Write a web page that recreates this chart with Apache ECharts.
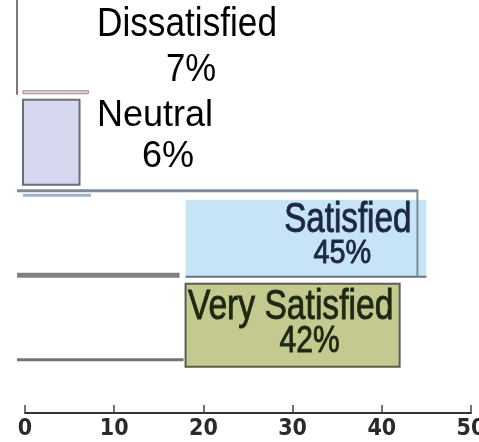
<!DOCTYPE html>
<html>
<head>
<meta charset="utf-8">
<script src="https://cdn.jsdelivr.net/npm/echarts@6/dist/echarts.min.js"></script>
<style>
  html, body { margin: 0; padding: 0; background: #ffffff; }
  #chart { width: 479px; height: 442px; }
</style>
</head>
<body>
<div id="chart"></div>
<script>
// Survey satisfaction shares (percent)
const categories = ['Dissatisfied', 'Neutral', 'Satisfied', 'Very Satisfied'];
const percentValues = [7, 6, 45, 42];
// Axis value where the coloured fill of each bar begins
const fillFrom = [0, 0, 18, 18];
// Tick values along the percentage axis
const axisTicks = [0, 10, 20, 30, 40, 50];

const TEXT_FONT = "'Liberation Sans', Arial, sans-serif";

function rect(x1, y1, x2, y2, fill, stroke, lw) {
  return {
    type: 'rect',
    shape: { x: x1, y: y1, width: x2 - x1, height: y2 - y1 },
    style: { fill: fill, stroke: stroke || null, lineWidth: lw || 0 }
  };
}
function line(x1, y1, x2, y2, stroke, lw) {
  return {
    type: 'line',
    shape: { x1: x1, y1: y1, x2: x2, y2: y2 },
    style: { stroke: stroke, lineWidth: lw }
  };
}
function text(str, x, y, size, fill, sx, align, heavy) {
  return {
    type: 'text',
    x: x, y: y,
    scaleX: sx,
    style: {
      text: str, fontSize: size, fontFamily: TEXT_FONT,
      fill: fill, align: align || 'center', verticalAlign: 'middle',
      stroke: heavy ? fill : null, lineWidth: heavy ? 0.9 : 0
    }
  };
}

function renderItem(params, api) {
  const i = params.dataIndex;
  const val = api.value(0);
  const cat = api.value(1);
  const from = api.value(2);
  const origin = api.coord([0, cat]);
  const x0 = origin[0], cy = origin[1];
  const xs = api.coord([from, cat])[0];
  const xe = api.coord([val, cat])[0];
  const pct = val + '%';
  const name = categories[i];
  const kids = [];

  if (i === 0) {
    kids.push(line(x0 - 8, cy - 54, x0 - 8, cy + 43, '#7a7a7a', 2));
    kids.push(rect(x0 - 2, cy + 39, xe + 1, cy + 42, '#e8cfd9', '#9a8a92', 1));
    kids.push(text(name, x0 + 162, cy - 27, 40, '#000000', 0.88));
    kids.push(text(pct, x0 + 166, cy + 18, 39, '#000000', 0.89));
  } else if (i === 1) {
    kids.push(rect(x0 - 2, cy - 43.5, xe + 1, cy + 41.5, '#d5d7ef', '#6e6e78', 2));
    kids.push(line(x0 - 2, cy + 52, x0 + 66, cy + 52, '#9fb5cf', 3));
    kids.push(text(name, x0 + 130, cy - 27.5, 36, '#000000', 1));
    kids.push(text(pct, x0 + 143, cy + 13.5, 36, '#000000', 1));
  } else if (i === 2) {
    kids.push(rect(xs, cy - 35, xe, cy + 42, '#c7e3f6'));
    kids.push(line(xs, cy + 42, xe, cy + 42, '#6b7382', 2));
    kids.push(line(x0 - 8, cy - 44, xe - 9, cy - 44, '#7d8a97', 3));
    kids.push(line(xe - 9, cy - 45, xe - 9, cy + 42, '#7d8a97', 2));
    kids.push(line(x0 - 8, cy + 40.5, xs - 6, cy + 40.5, '#7e827f', 5));
    kids.push(text(name, xe - 15, cy - 14, 42, '#1d2742', 0.79, 'right', true));
    kids.push(text(pct, xe - 84, cy + 19, 34, '#1d2742', 0.85, 'center', true));
  } else {
    kids.push(rect(xs, cy - 42.5, xe, cy + 40.5, '#c4c98f', '#5b5e4f', 2));
    kids.push(line(x0 - 8, cy + 33.5, xs - 2, cy + 33.5, '#72766e', 3));
    kids.push(text(name, (xs + xe) / 2 - 2, cy - 19, 42, '#1e2712', 0.8, 'center', true));
    kids.push(text(pct, (xs + xe) / 2 + 17, cy + 15.5, 37, '#1e2712', 0.81, 'center', true));
  }
  return { type: 'group', children: kids };
}

const seriesData = categories.map(function (c, k) {
  return [percentValues[k], k, fillFrom[k]];
});

const chart = echarts.init(document.getElementById('chart'), null, { renderer: 'canvas' });
chart.setOption({
  animation: false,
  backgroundColor: '#ffffff',
  grid: { left: 25, right: 8, top: 6, bottom: 70, containLabel: false, outerBoundsMode: 'none' },
  xAxis: {
    type: 'value',
    min: axisTicks[0],
    max: axisTicks[axisTicks.length - 1],
    interval: axisTicks[1] - axisTicks[0],
    offset: 41,
    splitLine: { show: false },
    axisLine: { show: true, lineStyle: { color: '#333333', width: 2 } },
    axisTick: { show: true, inside: true, length: 8, lineStyle: { color: '#444444', width: 1.5 } },
    axisLabel: {
      margin: 5,
      fontSize: 23,
      fontWeight: 'bold',
      fontFamily: "'Liberation Sans Narrow', 'DejaVu Sans Condensed', sans-serif",
      color: '#2a2a2a'
    }
  },
  yAxis: {
    type: 'category',
    inverse: true,
    data: categories,
    show: false
  },
  series: [{
    type: 'custom',
    renderItem: renderItem,
    encode: { x: 0, y: 1 },
    data: seriesData,
    clip: false
  }]
});
</script>
</body>
</html>
